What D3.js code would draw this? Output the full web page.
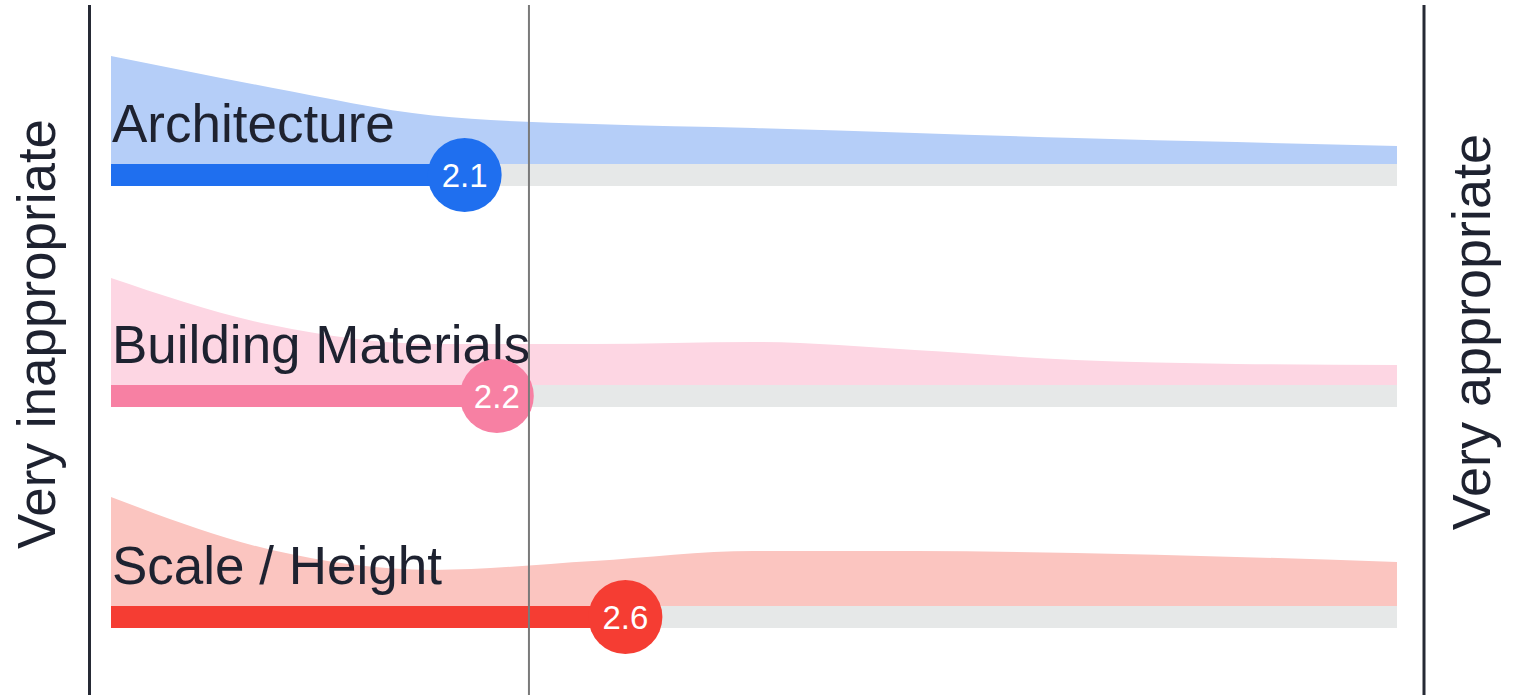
<!DOCTYPE html>
<html>
<head>
<meta charset="utf-8">
<script src="https://cdn.jsdelivr.net/npm/d3@7"></script>
<style>
  html, body { margin: 0; padding: 0; background: #ffffff; }
  #chart { width: 1524px; height: 695px; }
</style>
</head>
<body>
<div id="chart"></div>
<script>
// categories and the mean rating of each (scale 1..5)
const categories = ["Architecture", "Building Materials", "Scale / Height"];
const means = [2.1, 2.2, 2.6];
const overallMean = 2.3;
const scaleEnds = ["Very inappropriate", "Very appropriate"];

// distribution of answers along the scale (share of responses, %)
const densityPoints = [1, 1.5, 2, 2.5, 3, 3.5, 4, 4.5, 5];
const architectureDensity = [38.9, 27.5, 17.5, 14.4, 13.0, 11.2, 9.4, 7.9, 6.5];
const materialsDensity = [38.6, 21.6, 14.8, 14.8, 15.5, 12.6, 9.0, 7.6, 7.2];
const scaleDensity = [39.3, 20.2, 13.0, 16.2, 19.8, 19.8, 19.1, 17.7, 15.9];

const barColors = ["#1f6fef", "#f780a3", "#f53d33"];
const areaColors = ["#b5cef8", "#fdd6e3", "#fbc5c0"];

const width = 1524;
const height = 695;
const barH = 22;
const r = 37;

const svg = d3.select("#chart")
    .append("svg")
    .attr("width", width)
    .attr("height", height)
    .style("font-family", "'Liberation Sans', Arial, sans-serif");

const x = d3.scaleLinear().domain([1, 5]).range([111, 1397]);
const y = d3.scalePoint().domain(categories).range([164, 606]);
const h = d3.scaleLinear().domain([0, 40]).range([0, 111]);

const densities = [architectureDensity, materialsDensity, scaleDensity];

const rows = svg.append("g")
    .selectAll("g")
    .data(categories)
    .enter()
    .append("g")
    .attr("transform", d => `translate(0,${y(d)})`);

// distribution area sitting on top of the bar
const area = d3.area()
    .x(d => x(d[0]))
    .y0(0)
    .y1(d => -h(d[1]))
    .curve(d3.curveMonotoneX);

rows.append("path")
    .attr("d", (d, i) => area(densityPoints.map((p, j) => [p, densities[i][j]])))
    .attr("fill", (d, i) => areaColors[i]);

// gray track for the rest of the scale
rows.append("rect")
    .attr("x", (d, i) => x(means[i]))
    .attr("y", 0)
    .attr("width", (d, i) => x(5) - x(means[i]))
    .attr("height", barH)
    .attr("fill", "#e6e8e8");

rows.append("rect")
    .attr("x", x(1))
    .attr("y", 0)
    .attr("width", (d, i) => x(means[i]) - x(1))
    .attr("height", barH)
    .attr("fill", (d, i) => barColors[i]);

rows.append("text")
    .attr("x", x(1) + 1)
    .attr("y", -22)
    .attr("font-size", 53)
    .attr("fill", "#1e2230")
    .text(d => d);

// overall mean line
svg.append("line")
    .attr("x1", x(overallMean))
    .attr("x2", x(overallMean))
    .attr("y1", 5)
    .attr("y2", height)
    .attr("stroke", "#7a7a7a")
    .attr("stroke-width", 2);

rows.append("circle")
    .attr("cx", (d, i) => x(means[i]))
    .attr("cy", barH / 2)
    .attr("r", r)
    .attr("fill", (d, i) => barColors[i]);

rows.append("text")
    .attr("x", (d, i) => x(means[i]))
    .attr("y", barH / 2)
    .attr("dy", "0.36em")
    .attr("text-anchor", "middle")
    .attr("font-size", 33)
    .attr("fill", "#ffffff")
    .text((d, i) => d3.format(".1f")(means[i]));

// scale end lines
[x(1) - 21.5, x(5) + 27].forEach(px => {
    svg.append("line")
        .attr("x1", px)
        .attr("x2", px)
        .attr("y1", 5)
        .attr("y2", height)
        .attr("stroke", "#262a35")
        .attr("stroke-width", 3);
});

// scale end labels
svg.append("text")
    .attr("transform", "translate(55,334) rotate(-90)")
    .attr("text-anchor", "middle")
    .attr("font-size", 53)
    .attr("fill", "#1e2230")
    .text(scaleEnds[0]);

svg.append("text")
    .attr("transform", "translate(1490,332) rotate(-90)")
    .attr("text-anchor", "middle")
    .attr("font-size", 54)
    .attr("fill", "#1e2230")
    .text(scaleEnds[1]);
</script>
</body>
</html>
